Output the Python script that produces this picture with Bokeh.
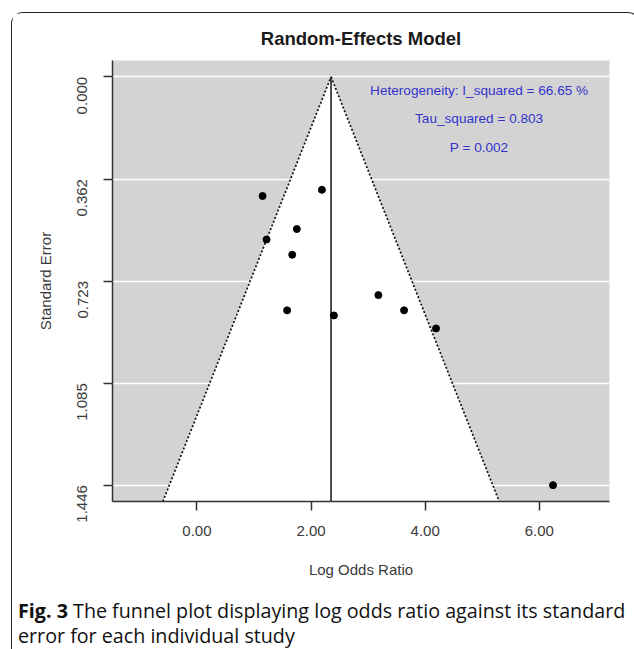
import math
from bokeh.plotting import figure
from bokeh.layouts import column
from bokeh.models import Range1d, FixedTicker, Label, Div
from bokeh.embed import file_html
from bokeh.resources import INLINE

# ---- data ----
log_odds = [1.15, 2.19, 1.75, 1.22, 1.67, 1.58, 2.40, 3.18, 3.63, 4.19, 6.24]
std_err = [0.422, 0.400, 0.539, 0.576, 0.630, 0.827, 0.845, 0.773, 0.827, 0.891, 1.446]
pooled_effect = 2.35
z_crit = 1.96
x_ticks = [0, 2, 4, 6]
x_tick_labels = ["0.00", "2.00", "4.00", "6.00"]
y_ticks = [0.0, 0.362, 0.723, 1.085, 1.446]
y_tick_labels = ["0.000", "0.362", "0.723", "1.085", "1.446"]
stats_lines = ["Heterogeneity: I_squared =  66.65 %", "Tau_squared =  0.803", "P =  0.002"]
title_text = "Random-Effects Model"
x_label = "Log Odds Ratio"
y_label = "Standard Error"
caption_bold = "Fig. 3"
caption_line1 = "The funnel plot displaying log odds ratio against its standard"
caption_line2 = "error for each individual study"

# ---- ranges ----
x_lo, x_hi = -1.48, 7.23
se_max = max(y_ticks)
pad = 0.04 * se_max
y_bottom = se_max + pad
y_top = -pad

FONT = "Liberation Sans"
GRAY_BG = "#d3d3d3"

FIG_W, FIG_H = 617, 580
MB_L, MB_R, MB_T, MB_B = 100, 20, 47, 92

p = figure(width=FIG_W, height=FIG_H,
           x_range=Range1d(x_lo, x_hi), y_range=Range1d(y_bottom, y_top),
           output_backend="svg", toolbar_location=None,
           min_border_left=MB_L, min_border_right=MB_R,
           min_border_top=MB_T, min_border_bottom=MB_B,
           background_fill_color=GRAY_BG, border_fill_color="white",
           outline_line_color=None)

# title
p.title.text = title_text
p.title.align = "center"
p.title.text_font = FONT
p.title.text_font_size = "18.5px"
p.title.text_font_style = "bold"
p.title.text_color = "#1a1a1a"
p.title.standoff = 23

# grid
p.xgrid.visible = False
p.ygrid.ticker = FixedTicker(ticks=y_ticks)
p.ygrid.grid_line_color = "white"
p.ygrid.grid_line_width = 1.5

# funnel
left_end = pooled_effect - z_crit * y_bottom
right_end = pooled_effect + z_crit * y_bottom
p.patch([left_end, pooled_effect, right_end], [y_bottom, 0, y_bottom],
        fill_color="white", line_color=None)
p.line([left_end, pooled_effect], [y_bottom, 0], line_color="#111111",
       line_width=1.7, line_dash="2 2")
p.line([pooled_effect, right_end], [0, y_bottom], line_color="#111111",
       line_width=1.7, line_dash="2 2")
p.line([pooled_effect, pooled_effect], [0, y_bottom], line_color="#111111", line_width=1.5)

# studies
p.scatter(log_odds, std_err, size=7, color="black")

# axes
for ax in (p.xaxis[0], p.yaxis[0]):
    ax.axis_line_color = "#333333"
    ax.axis_line_width = 1.5
    ax.major_tick_line_color = "#333333"
    ax.major_tick_line_width = 1.5
    ax.major_tick_out = 9
    ax.major_tick_in = 0
    ax.minor_tick_line_color = None
    ax.major_label_text_font = FONT
    ax.major_label_text_font_size = "15px"
    ax.major_label_text_color = "#3a3a3a"
    ax.axis_label_text_font = FONT
    ax.axis_label_text_font_size = "15px"
    ax.axis_label_text_font_style = "normal"
    ax.axis_label_text_color = "#3a3a3a"

p.xaxis.ticker = FixedTicker(ticks=x_ticks)
p.xaxis.major_label_overrides = {t: l for t, l in zip(x_ticks, x_tick_labels)}
p.xaxis.major_label_standoff = 15
p.xaxis.axis_label = x_label
p.xaxis.axis_label_standoff = 22

p.yaxis.ticker = FixedTicker(ticks=y_ticks)
p.yaxis.major_label_overrides = {t: l for t, l in zip(y_ticks, y_tick_labels)}
p.yaxis.major_label_orientation = math.pi / 2
p.yaxis.major_label_standoff = 21
p.yaxis.axis_label = y_label
p.yaxis.axis_label_standoff = 16

# page geometry: column at (11, 12) with a 1.5px border
ORG_X, ORG_Y = 12.5, 13.5
FL = ORG_X + MB_L
FB = ORG_Y + FIG_H - MB_B
def sx(px):
    return px - FL
def sy(py):
    return FB - py

# heterogeneity stats (inside the panel)
for txt, py in zip(stats_lines, [90, 118.5, 147]):
    p.add_layout(Label(x=sx(481), y=sy(py), x_units="screen", y_units="screen",
                       text=txt, text_align="center", text_baseline="middle",
                       text_font=FONT, text_font_size="13.6px",
                       text_color="#3333cc"))

# caption
caption = Div(
    text=f"<b>{caption_bold}</b> {caption_line1}<br>{caption_line2}",
    width=FIG_W, height=55,
    styles={"font-family": "'Open Sans', sans-serif", "font-size": "19.7px",
            "line-height": "25px", "color": "#111111", "white-space": "nowrap",
            "padding-left": "1px"})

layout = column(p, caption, spacing=0, margin=(12, 0, 0, 11),
                styles={"border-top": "1.5px solid #222222",
                        "border-left": "1.5px solid #222222",
                        "border-right": "1.5px solid #222222",
                        "border-top-left-radius": "12px",
                        "border-top-right-radius": "12px"})

open("out.html", "w").write(file_html(layout, INLINE))
